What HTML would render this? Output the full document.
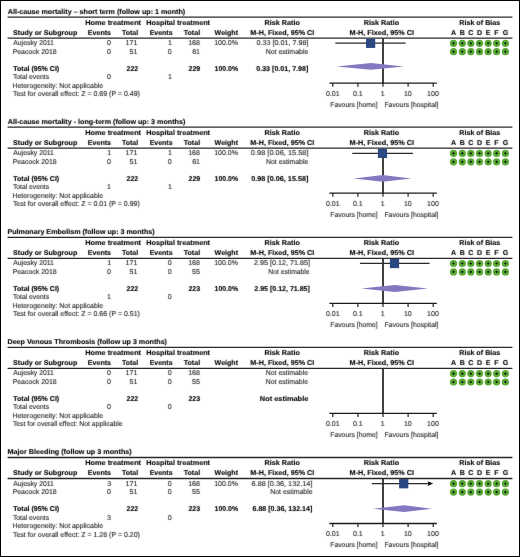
<!DOCTYPE html>
<html><head><meta charset="utf-8"><style>
html,body{margin:0;padding:0;background:#fff;}
#f{position:relative;width:520px;height:557px;overflow:hidden;background:#fff;}
svg{position:absolute;left:0;top:0;}
text{text-rendering:geometricPrecision;font-family:"Liberation Sans",sans-serif;font-size:7.05px;fill:#222;stroke:#222;stroke-width:0.1px;} text[font-weight=bold]{fill:#000;stroke:#000;stroke-width:0.12px;}

</style></head><body><div id="f">
<svg width="520" height="557" viewBox="0 0 520 557">
<defs><filter id="bl" x="0" y="0" width="520" height="557" filterUnits="userSpaceOnUse"><feConvolveMatrix order="3" kernelMatrix="0.0150 0.0500 0.0150 0.0500 0.7400 0.0500 0.0150 0.0500 0.0150" divisor="1" preserveAlpha="false"/></filter></defs>
<rect x="0.5" y="0.5" width="519" height="556" fill="#fff" stroke="#000" stroke-width="1"/>
<line x1="7.60" y1="17.10" x2="512.40" y2="17.10" stroke="#2a2a2a" stroke-width="1.3"/>
<line x1="7.60" y1="38.10" x2="512.40" y2="38.10" stroke="#2a2a2a" stroke-width="1.3"/>
<circle cx="453.50" cy="43.30" r="3.6" fill="#58a934"/>
<path d="M452.40 43.30h2.2M453.50 42.20v2.2" stroke="#111" stroke-width="1.1"/>
<circle cx="462.30" cy="43.30" r="3.6" fill="#58a934"/>
<path d="M461.20 43.30h2.2M462.30 42.20v2.2" stroke="#111" stroke-width="1.1"/>
<circle cx="470.80" cy="43.30" r="3.6" fill="#58a934"/>
<path d="M469.70 43.30h2.2M470.80 42.20v2.2" stroke="#111" stroke-width="1.1"/>
<circle cx="479.50" cy="43.30" r="3.6" fill="#58a934"/>
<path d="M478.40 43.30h2.2M479.50 42.20v2.2" stroke="#111" stroke-width="1.1"/>
<circle cx="488.20" cy="43.30" r="3.6" fill="#58a934"/>
<path d="M487.10 43.30h2.2M488.20 42.20v2.2" stroke="#111" stroke-width="1.1"/>
<circle cx="496.60" cy="43.30" r="3.6" fill="#58a934"/>
<path d="M495.50 43.30h2.2M496.60 42.20v2.2" stroke="#111" stroke-width="1.1"/>
<circle cx="505.40" cy="43.30" r="3.6" fill="#58a934"/>
<path d="M504.30 43.30h2.2M505.40 42.20v2.2" stroke="#111" stroke-width="1.1"/>
<circle cx="453.50" cy="51.70" r="3.6" fill="#58a934"/>
<path d="M452.40 51.70h2.2M453.50 50.60v2.2" stroke="#111" stroke-width="1.1"/>
<circle cx="462.30" cy="51.70" r="3.6" fill="#58a934"/>
<path d="M461.20 51.70h2.2M462.30 50.60v2.2" stroke="#111" stroke-width="1.1"/>
<circle cx="470.80" cy="51.70" r="3.6" fill="#58a934"/>
<path d="M469.70 51.70h2.2M470.80 50.60v2.2" stroke="#111" stroke-width="1.1"/>
<circle cx="479.50" cy="51.70" r="3.6" fill="#58a934"/>
<path d="M478.40 51.70h2.2M479.50 50.60v2.2" stroke="#111" stroke-width="1.1"/>
<circle cx="488.20" cy="51.70" r="3.6" fill="#58a934"/>
<path d="M487.10 51.70h2.2M488.20 50.60v2.2" stroke="#111" stroke-width="1.1"/>
<circle cx="496.60" cy="51.70" r="3.6" fill="#58a934"/>
<path d="M495.50 51.70h2.2M496.60 50.60v2.2" stroke="#111" stroke-width="1.1"/>
<circle cx="505.40" cy="51.70" r="3.6" fill="#58a934"/>
<path d="M504.30 51.70h2.2M505.40 50.60v2.2" stroke="#111" stroke-width="1.1"/>
<line x1="383.00" y1="38.50" x2="383.00" y2="83.50" stroke="#1e1e1e" stroke-width="1.7"/>
<line x1="329.40" y1="83.10" x2="436.80" y2="83.10" stroke="#1a1a1a" stroke-width="1.3"/>
<line x1="332.80" y1="83.10" x2="332.80" y2="86.70" stroke="#222" stroke-width="1.2"/>
<line x1="357.90" y1="83.10" x2="357.90" y2="86.70" stroke="#222" stroke-width="1.2"/>
<line x1="383.00" y1="83.10" x2="383.00" y2="86.70" stroke="#222" stroke-width="1.2"/>
<line x1="408.10" y1="83.10" x2="408.10" y2="86.70" stroke="#222" stroke-width="1.2"/>
<line x1="433.20" y1="83.10" x2="433.20" y2="86.70" stroke="#222" stroke-width="1.2"/>
<line x1="335.32" y1="43.20" x2="405.64" y2="43.20" stroke="#2a2a2a" stroke-width="1.2"/>
<rect x="366.01" y="38.65" width="9.2" height="9.3" fill="#2b4a82"/>
<path d="M336.62 66.40L370.91 63.00L403.94 66.40L370.91 69.80Z" fill="#8577c0"/>
<line x1="7.60" y1="127.20" x2="512.40" y2="127.20" stroke="#2a2a2a" stroke-width="1.3"/>
<line x1="7.60" y1="148.20" x2="512.40" y2="148.20" stroke="#2a2a2a" stroke-width="1.3"/>
<circle cx="453.50" cy="153.40" r="3.6" fill="#58a934"/>
<path d="M452.40 153.40h2.2M453.50 152.30v2.2" stroke="#111" stroke-width="1.1"/>
<circle cx="462.30" cy="153.40" r="3.6" fill="#58a934"/>
<path d="M461.20 153.40h2.2M462.30 152.30v2.2" stroke="#111" stroke-width="1.1"/>
<circle cx="470.80" cy="153.40" r="3.6" fill="#58a934"/>
<path d="M469.70 153.40h2.2M470.80 152.30v2.2" stroke="#111" stroke-width="1.1"/>
<circle cx="479.50" cy="153.40" r="3.6" fill="#58a934"/>
<path d="M478.40 153.40h2.2M479.50 152.30v2.2" stroke="#111" stroke-width="1.1"/>
<circle cx="488.20" cy="153.40" r="3.6" fill="#58a934"/>
<path d="M487.10 153.40h2.2M488.20 152.30v2.2" stroke="#111" stroke-width="1.1"/>
<circle cx="496.60" cy="153.40" r="3.6" fill="#58a934"/>
<path d="M495.50 153.40h2.2M496.60 152.30v2.2" stroke="#111" stroke-width="1.1"/>
<circle cx="505.40" cy="153.40" r="3.6" fill="#58a934"/>
<path d="M504.30 153.40h2.2M505.40 152.30v2.2" stroke="#111" stroke-width="1.1"/>
<circle cx="453.50" cy="161.80" r="3.6" fill="#58a934"/>
<path d="M452.40 161.80h2.2M453.50 160.70v2.2" stroke="#111" stroke-width="1.1"/>
<circle cx="462.30" cy="161.80" r="3.6" fill="#58a934"/>
<path d="M461.20 161.80h2.2M462.30 160.70v2.2" stroke="#111" stroke-width="1.1"/>
<circle cx="470.80" cy="161.80" r="3.6" fill="#58a934"/>
<path d="M469.70 161.80h2.2M470.80 160.70v2.2" stroke="#111" stroke-width="1.1"/>
<circle cx="479.50" cy="161.80" r="3.6" fill="#58a934"/>
<path d="M478.40 161.80h2.2M479.50 160.70v2.2" stroke="#111" stroke-width="1.1"/>
<circle cx="488.20" cy="161.80" r="3.6" fill="#58a934"/>
<path d="M487.10 161.80h2.2M488.20 160.70v2.2" stroke="#111" stroke-width="1.1"/>
<circle cx="496.60" cy="161.80" r="3.6" fill="#58a934"/>
<path d="M495.50 161.80h2.2M496.60 160.70v2.2" stroke="#111" stroke-width="1.1"/>
<circle cx="505.40" cy="161.80" r="3.6" fill="#58a934"/>
<path d="M504.30 161.80h2.2M505.40 160.70v2.2" stroke="#111" stroke-width="1.1"/>
<line x1="383.00" y1="148.60" x2="383.00" y2="193.60" stroke="#1e1e1e" stroke-width="1.7"/>
<line x1="329.40" y1="193.20" x2="436.80" y2="193.20" stroke="#1a1a1a" stroke-width="1.3"/>
<line x1="332.80" y1="193.20" x2="332.80" y2="196.80" stroke="#222" stroke-width="1.2"/>
<line x1="357.90" y1="193.20" x2="357.90" y2="196.80" stroke="#222" stroke-width="1.2"/>
<line x1="383.00" y1="193.20" x2="383.00" y2="196.80" stroke="#222" stroke-width="1.2"/>
<line x1="408.10" y1="193.20" x2="408.10" y2="196.80" stroke="#222" stroke-width="1.2"/>
<line x1="433.20" y1="193.20" x2="433.20" y2="196.80" stroke="#222" stroke-width="1.2"/>
<line x1="352.33" y1="153.30" x2="412.93" y2="153.30" stroke="#2a2a2a" stroke-width="1.2"/>
<rect x="377.88" y="148.75" width="9.2" height="9.3" fill="#2b4a82"/>
<path d="M353.63 178.40L382.78 175.00L411.23 178.40L382.78 181.80Z" fill="#8577c0"/>
<line x1="7.60" y1="237.30" x2="512.40" y2="237.30" stroke="#2a2a2a" stroke-width="1.3"/>
<line x1="7.60" y1="258.30" x2="512.40" y2="258.30" stroke="#2a2a2a" stroke-width="1.3"/>
<circle cx="453.50" cy="263.50" r="3.6" fill="#58a934"/>
<path d="M452.40 263.50h2.2M453.50 262.40v2.2" stroke="#111" stroke-width="1.1"/>
<circle cx="462.30" cy="263.50" r="3.6" fill="#58a934"/>
<path d="M461.20 263.50h2.2M462.30 262.40v2.2" stroke="#111" stroke-width="1.1"/>
<circle cx="470.80" cy="263.50" r="3.6" fill="#58a934"/>
<path d="M469.70 263.50h2.2M470.80 262.40v2.2" stroke="#111" stroke-width="1.1"/>
<circle cx="479.50" cy="263.50" r="3.6" fill="#58a934"/>
<path d="M478.40 263.50h2.2M479.50 262.40v2.2" stroke="#111" stroke-width="1.1"/>
<circle cx="488.20" cy="263.50" r="3.6" fill="#58a934"/>
<path d="M487.10 263.50h2.2M488.20 262.40v2.2" stroke="#111" stroke-width="1.1"/>
<circle cx="496.60" cy="263.50" r="3.6" fill="#58a934"/>
<path d="M495.50 263.50h2.2M496.60 262.40v2.2" stroke="#111" stroke-width="1.1"/>
<circle cx="505.40" cy="263.50" r="3.6" fill="#58a934"/>
<path d="M504.30 263.50h2.2M505.40 262.40v2.2" stroke="#111" stroke-width="1.1"/>
<circle cx="453.50" cy="271.90" r="3.6" fill="#58a934"/>
<path d="M452.40 271.90h2.2M453.50 270.80v2.2" stroke="#111" stroke-width="1.1"/>
<circle cx="462.30" cy="271.90" r="3.6" fill="#58a934"/>
<path d="M461.20 271.90h2.2M462.30 270.80v2.2" stroke="#111" stroke-width="1.1"/>
<circle cx="470.80" cy="271.90" r="3.6" fill="#58a934"/>
<path d="M469.70 271.90h2.2M470.80 270.80v2.2" stroke="#111" stroke-width="1.1"/>
<circle cx="479.50" cy="271.90" r="3.6" fill="#58a934"/>
<path d="M478.40 271.90h2.2M479.50 270.80v2.2" stroke="#111" stroke-width="1.1"/>
<circle cx="488.20" cy="271.90" r="3.6" fill="#58a934"/>
<path d="M487.10 271.90h2.2M488.20 270.80v2.2" stroke="#111" stroke-width="1.1"/>
<circle cx="496.60" cy="271.90" r="3.6" fill="#58a934"/>
<path d="M495.50 271.90h2.2M496.60 270.80v2.2" stroke="#111" stroke-width="1.1"/>
<circle cx="505.40" cy="271.90" r="3.6" fill="#58a934"/>
<path d="M504.30 271.90h2.2M505.40 270.80v2.2" stroke="#111" stroke-width="1.1"/>
<line x1="383.00" y1="258.70" x2="383.00" y2="303.70" stroke="#1e1e1e" stroke-width="1.7"/>
<line x1="329.40" y1="303.30" x2="436.80" y2="303.30" stroke="#1a1a1a" stroke-width="1.3"/>
<line x1="332.80" y1="303.30" x2="332.80" y2="306.90" stroke="#222" stroke-width="1.2"/>
<line x1="357.90" y1="303.30" x2="357.90" y2="306.90" stroke="#222" stroke-width="1.2"/>
<line x1="383.00" y1="303.30" x2="383.00" y2="306.90" stroke="#222" stroke-width="1.2"/>
<line x1="408.10" y1="303.30" x2="408.10" y2="306.90" stroke="#222" stroke-width="1.2"/>
<line x1="433.20" y1="303.30" x2="433.20" y2="306.90" stroke="#222" stroke-width="1.2"/>
<line x1="359.89" y1="263.40" x2="429.60" y2="263.40" stroke="#2a2a2a" stroke-width="1.2"/>
<rect x="389.89" y="258.85" width="9.2" height="9.3" fill="#2b4a82"/>
<path d="M361.19 288.50L394.79 285.10L427.90 288.50L394.79 291.90Z" fill="#8577c0"/>
<line x1="7.60" y1="347.40" x2="512.40" y2="347.40" stroke="#2a2a2a" stroke-width="1.3"/>
<line x1="7.60" y1="368.40" x2="512.40" y2="368.40" stroke="#2a2a2a" stroke-width="1.3"/>
<circle cx="453.50" cy="373.60" r="3.6" fill="#58a934"/>
<path d="M452.40 373.60h2.2M453.50 372.50v2.2" stroke="#111" stroke-width="1.1"/>
<circle cx="462.30" cy="373.60" r="3.6" fill="#58a934"/>
<path d="M461.20 373.60h2.2M462.30 372.50v2.2" stroke="#111" stroke-width="1.1"/>
<circle cx="470.80" cy="373.60" r="3.6" fill="#58a934"/>
<path d="M469.70 373.60h2.2M470.80 372.50v2.2" stroke="#111" stroke-width="1.1"/>
<circle cx="479.50" cy="373.60" r="3.6" fill="#58a934"/>
<path d="M478.40 373.60h2.2M479.50 372.50v2.2" stroke="#111" stroke-width="1.1"/>
<circle cx="488.20" cy="373.60" r="3.6" fill="#58a934"/>
<path d="M487.10 373.60h2.2M488.20 372.50v2.2" stroke="#111" stroke-width="1.1"/>
<circle cx="496.60" cy="373.60" r="3.6" fill="#58a934"/>
<path d="M495.50 373.60h2.2M496.60 372.50v2.2" stroke="#111" stroke-width="1.1"/>
<circle cx="505.40" cy="373.60" r="3.6" fill="#58a934"/>
<path d="M504.30 373.60h2.2M505.40 372.50v2.2" stroke="#111" stroke-width="1.1"/>
<circle cx="453.50" cy="382.00" r="3.6" fill="#58a934"/>
<path d="M452.40 382.00h2.2M453.50 380.90v2.2" stroke="#111" stroke-width="1.1"/>
<circle cx="462.30" cy="382.00" r="3.6" fill="#58a934"/>
<path d="M461.20 382.00h2.2M462.30 380.90v2.2" stroke="#111" stroke-width="1.1"/>
<circle cx="470.80" cy="382.00" r="3.6" fill="#58a934"/>
<path d="M469.70 382.00h2.2M470.80 380.90v2.2" stroke="#111" stroke-width="1.1"/>
<circle cx="479.50" cy="382.00" r="3.6" fill="#58a934"/>
<path d="M478.40 382.00h2.2M479.50 380.90v2.2" stroke="#111" stroke-width="1.1"/>
<circle cx="488.20" cy="382.00" r="3.6" fill="#58a934"/>
<path d="M487.10 382.00h2.2M488.20 380.90v2.2" stroke="#111" stroke-width="1.1"/>
<circle cx="496.60" cy="382.00" r="3.6" fill="#58a934"/>
<path d="M495.50 382.00h2.2M496.60 380.90v2.2" stroke="#111" stroke-width="1.1"/>
<circle cx="505.40" cy="382.00" r="3.6" fill="#58a934"/>
<path d="M504.30 382.00h2.2M505.40 380.90v2.2" stroke="#111" stroke-width="1.1"/>
<line x1="383.00" y1="368.80" x2="383.00" y2="413.80" stroke="#1e1e1e" stroke-width="1.7"/>
<line x1="329.40" y1="413.40" x2="436.80" y2="413.40" stroke="#1a1a1a" stroke-width="1.3"/>
<line x1="332.80" y1="413.40" x2="332.80" y2="417.00" stroke="#222" stroke-width="1.2"/>
<line x1="357.90" y1="413.40" x2="357.90" y2="417.00" stroke="#222" stroke-width="1.2"/>
<line x1="383.00" y1="413.40" x2="383.00" y2="417.00" stroke="#222" stroke-width="1.2"/>
<line x1="408.10" y1="413.40" x2="408.10" y2="417.00" stroke="#222" stroke-width="1.2"/>
<line x1="433.20" y1="413.40" x2="433.20" y2="417.00" stroke="#222" stroke-width="1.2"/>
<line x1="7.60" y1="457.50" x2="512.40" y2="457.50" stroke="#2a2a2a" stroke-width="1.3"/>
<line x1="7.60" y1="478.50" x2="512.40" y2="478.50" stroke="#2a2a2a" stroke-width="1.3"/>
<circle cx="453.50" cy="483.70" r="3.6" fill="#58a934"/>
<path d="M452.40 483.70h2.2M453.50 482.60v2.2" stroke="#111" stroke-width="1.1"/>
<circle cx="462.30" cy="483.70" r="3.6" fill="#58a934"/>
<path d="M461.20 483.70h2.2M462.30 482.60v2.2" stroke="#111" stroke-width="1.1"/>
<circle cx="470.80" cy="483.70" r="3.6" fill="#58a934"/>
<path d="M469.70 483.70h2.2M470.80 482.60v2.2" stroke="#111" stroke-width="1.1"/>
<circle cx="479.50" cy="483.70" r="3.6" fill="#58a934"/>
<path d="M478.40 483.70h2.2M479.50 482.60v2.2" stroke="#111" stroke-width="1.1"/>
<circle cx="488.20" cy="483.70" r="3.6" fill="#58a934"/>
<path d="M487.10 483.70h2.2M488.20 482.60v2.2" stroke="#111" stroke-width="1.1"/>
<circle cx="496.60" cy="483.70" r="3.6" fill="#58a934"/>
<path d="M495.50 483.70h2.2M496.60 482.60v2.2" stroke="#111" stroke-width="1.1"/>
<circle cx="505.40" cy="483.70" r="3.6" fill="#58a934"/>
<path d="M504.30 483.70h2.2M505.40 482.60v2.2" stroke="#111" stroke-width="1.1"/>
<circle cx="453.50" cy="492.10" r="3.6" fill="#58a934"/>
<path d="M452.40 492.10h2.2M453.50 491.00v2.2" stroke="#111" stroke-width="1.1"/>
<circle cx="462.30" cy="492.10" r="3.6" fill="#58a934"/>
<path d="M461.20 492.10h2.2M462.30 491.00v2.2" stroke="#111" stroke-width="1.1"/>
<circle cx="470.80" cy="492.10" r="3.6" fill="#58a934"/>
<path d="M469.70 492.10h2.2M470.80 491.00v2.2" stroke="#111" stroke-width="1.1"/>
<circle cx="479.50" cy="492.10" r="3.6" fill="#58a934"/>
<path d="M478.40 492.10h2.2M479.50 491.00v2.2" stroke="#111" stroke-width="1.1"/>
<circle cx="488.20" cy="492.10" r="3.6" fill="#58a934"/>
<path d="M487.10 492.10h2.2M488.20 491.00v2.2" stroke="#111" stroke-width="1.1"/>
<circle cx="496.60" cy="492.10" r="3.6" fill="#58a934"/>
<path d="M495.50 492.10h2.2M496.60 491.00v2.2" stroke="#111" stroke-width="1.1"/>
<circle cx="505.40" cy="492.10" r="3.6" fill="#58a934"/>
<path d="M504.30 492.10h2.2M505.40 491.00v2.2" stroke="#111" stroke-width="1.1"/>
<line x1="383.00" y1="478.90" x2="383.00" y2="523.90" stroke="#1e1e1e" stroke-width="1.7"/>
<line x1="329.40" y1="523.50" x2="436.80" y2="523.50" stroke="#1a1a1a" stroke-width="1.3"/>
<line x1="332.80" y1="523.50" x2="332.80" y2="527.10" stroke="#222" stroke-width="1.2"/>
<line x1="357.90" y1="523.50" x2="357.90" y2="527.10" stroke="#222" stroke-width="1.2"/>
<line x1="383.00" y1="523.50" x2="383.00" y2="527.10" stroke="#222" stroke-width="1.2"/>
<line x1="408.10" y1="523.50" x2="408.10" y2="527.10" stroke="#222" stroke-width="1.2"/>
<line x1="433.20" y1="523.50" x2="433.20" y2="527.10" stroke="#222" stroke-width="1.2"/>
<line x1="371.86" y1="483.60" x2="430.00" y2="483.60" stroke="#2a2a2a" stroke-width="1.2"/>
<path d="M427.6 481.30L433.2 483.60L427.6 485.90L428.4 483.60Z" fill="#111"/>
<rect x="399.12" y="479.05" width="9.2" height="9.3" fill="#2b4a82"/>
<path d="M373.16 508.70L404.02 505.30L432.00 508.70L404.02 512.10Z" fill="#8577c0"/>
<g filter="url(#bl)">
<text x="7.75" y="13.60" font-weight="bold" textLength="177.40" lengthAdjust="spacingAndGlyphs">All-cause mortality – short term (follow up: 1 month)</text>
<text x="85.24" y="25.00" font-weight="bold" textLength="55.84" lengthAdjust="spacingAndGlyphs">Home treatment</text>
<text x="146.24" y="25.00" font-weight="bold" textLength="63.80" lengthAdjust="spacingAndGlyphs">Hospital treatment</text>
<text x="264.50" y="25.00" font-weight="bold" textLength="35.30" lengthAdjust="spacingAndGlyphs">Risk Ratio</text>
<text x="363.75" y="25.00" font-weight="bold" textLength="35.30" lengthAdjust="spacingAndGlyphs">Risk Ratio</text>
<text x="459.24" y="25.00" font-weight="bold" textLength="41.05" lengthAdjust="spacingAndGlyphs">Risk of Bias</text>
<text x="13.13" y="34.50" font-weight="bold" textLength="64.13" lengthAdjust="spacingAndGlyphs">Study or Subgroup</text>
<text x="87.75" y="34.50" font-weight="bold" textLength="23.32" lengthAdjust="spacingAndGlyphs">Events</text>
<text x="122.00" y="34.50" font-weight="bold" textLength="16.09" lengthAdjust="spacingAndGlyphs">Total</text>
<text x="149.63" y="34.50" font-weight="bold" textLength="22.93" lengthAdjust="spacingAndGlyphs">Events</text>
<text x="183.75" y="34.50" font-weight="bold" textLength="16.35" lengthAdjust="spacingAndGlyphs">Total</text>
<text x="214.62" y="34.50" font-weight="bold" textLength="23.39" lengthAdjust="spacingAndGlyphs">Weight</text>
<text x="250.37" y="34.50" font-weight="bold" textLength="63.83" lengthAdjust="spacingAndGlyphs">M-H, Fixed, 95% CI</text>
<text x="349.61" y="34.50" font-weight="bold" textLength="64.47" lengthAdjust="spacingAndGlyphs">M-H, Fixed, 95% CI</text>
<text x="450.94" y="34.50" font-weight="bold">A</text>
<text x="459.68" y="34.50" font-weight="bold">B</text>
<text x="468.18" y="34.50" font-weight="bold">C</text>
<text x="476.88" y="34.50" font-weight="bold">D</text>
<text x="485.76" y="34.50" font-weight="bold">E</text>
<text x="494.35" y="34.50" font-weight="bold">F</text>
<text x="502.71" y="34.50" font-weight="bold">G</text>
<text x="13.25" y="45.10" textLength="40.61" lengthAdjust="spacingAndGlyphs">Aujesky 2011</text>
<text x="107.05" y="45.10">0</text>
<text x="125.60" y="45.10">171</text>
<text x="167.97" y="45.10">1</text>
<text x="188.20" y="45.10">168</text>
<text x="214.14" y="45.10" textLength="23.73" lengthAdjust="spacingAndGlyphs">100.0%</text>
<text x="256.62" y="45.10" textLength="51.99" lengthAdjust="spacingAndGlyphs">0.33 [0.01, 7.98]</text>
<text x="12.63" y="53.60" textLength="43.98" lengthAdjust="spacingAndGlyphs">Peacock 2018</text>
<text x="107.05" y="53.60">0</text>
<text x="129.60" y="53.60">51</text>
<text x="167.85" y="53.60">0</text>
<text x="192.20" y="53.60">61</text>
<text x="265.63" y="53.60" textLength="42.78" lengthAdjust="spacingAndGlyphs">Not estimable</text>
<text x="13.25" y="70.60" font-weight="bold" textLength="45.95" lengthAdjust="spacingAndGlyphs">Total (95% CI)</text>
<text x="126.50" y="70.60" font-weight="bold">222</text>
<text x="188.50" y="70.60" font-weight="bold">229</text>
<text x="214.52" y="70.60" font-weight="bold" textLength="23.61" lengthAdjust="spacingAndGlyphs">100.0%</text>
<text x="256.25" y="70.60" font-weight="bold" textLength="52.10" lengthAdjust="spacingAndGlyphs">0.33 [0.01, 7.98]</text>
<text x="12.88" y="79.10" textLength="36.17" lengthAdjust="spacingAndGlyphs">Total events</text>
<text x="106.95" y="79.10">0</text>
<text x="167.88" y="79.10">1</text>
<text x="12.51" y="87.60" textLength="90.64" lengthAdjust="spacingAndGlyphs">Heterogeneity: Not applicable</text>
<text x="12.88" y="96.10" textLength="127.07" lengthAdjust="spacingAndGlyphs">Test for overall effect: Z = 0.69 (P = 0.49)</text>
<text x="325.89" y="95.90" font-size="6.6">0.01</text>
<text x="352.92" y="95.90" font-size="6.6">0.1</text>
<text x="380.84" y="95.90" font-size="6.6">1</text>
<text x="403.94" y="95.90" font-size="6.6">10</text>
<text x="427.10" y="95.90" font-size="6.6">100</text>
<text x="330.27" y="107.00" font-size="6.6" textLength="47.34" lengthAdjust="spacingAndGlyphs">Favours [home]</text>
<text x="384.39" y="107.00" font-size="6.6" textLength="54.13" lengthAdjust="spacingAndGlyphs">Favours [hospital]</text>
<text x="7.75" y="123.70" font-weight="bold" textLength="177.52" lengthAdjust="spacingAndGlyphs">All-cause mortality - long-term (follow up: 3 months)</text>
<text x="85.24" y="135.10" font-weight="bold" textLength="55.84" lengthAdjust="spacingAndGlyphs">Home treatment</text>
<text x="146.24" y="135.10" font-weight="bold" textLength="63.80" lengthAdjust="spacingAndGlyphs">Hospital treatment</text>
<text x="264.50" y="135.10" font-weight="bold" textLength="35.30" lengthAdjust="spacingAndGlyphs">Risk Ratio</text>
<text x="363.75" y="135.10" font-weight="bold" textLength="35.30" lengthAdjust="spacingAndGlyphs">Risk Ratio</text>
<text x="459.24" y="135.10" font-weight="bold" textLength="41.05" lengthAdjust="spacingAndGlyphs">Risk of Bias</text>
<text x="13.13" y="144.60" font-weight="bold" textLength="64.13" lengthAdjust="spacingAndGlyphs">Study or Subgroup</text>
<text x="87.75" y="144.60" font-weight="bold" textLength="23.32" lengthAdjust="spacingAndGlyphs">Events</text>
<text x="122.00" y="144.60" font-weight="bold" textLength="16.09" lengthAdjust="spacingAndGlyphs">Total</text>
<text x="149.63" y="144.60" font-weight="bold" textLength="22.93" lengthAdjust="spacingAndGlyphs">Events</text>
<text x="183.75" y="144.60" font-weight="bold" textLength="16.35" lengthAdjust="spacingAndGlyphs">Total</text>
<text x="214.62" y="144.60" font-weight="bold" textLength="23.39" lengthAdjust="spacingAndGlyphs">Weight</text>
<text x="250.37" y="144.60" font-weight="bold" textLength="63.83" lengthAdjust="spacingAndGlyphs">M-H, Fixed, 95% CI</text>
<text x="349.61" y="144.60" font-weight="bold" textLength="64.47" lengthAdjust="spacingAndGlyphs">M-H, Fixed, 95% CI</text>
<text x="450.94" y="144.60" font-weight="bold">A</text>
<text x="459.68" y="144.60" font-weight="bold">B</text>
<text x="468.18" y="144.60" font-weight="bold">C</text>
<text x="476.88" y="144.60" font-weight="bold">D</text>
<text x="485.76" y="144.60" font-weight="bold">E</text>
<text x="494.35" y="144.60" font-weight="bold">F</text>
<text x="502.71" y="144.60" font-weight="bold">G</text>
<text x="13.25" y="155.20" textLength="40.61" lengthAdjust="spacingAndGlyphs">Aujesky 2011</text>
<text x="107.17" y="155.20">1</text>
<text x="125.60" y="155.20">171</text>
<text x="167.97" y="155.20">1</text>
<text x="188.20" y="155.20">168</text>
<text x="214.14" y="155.20" textLength="23.73" lengthAdjust="spacingAndGlyphs">100.0%</text>
<text x="250.86" y="155.20" textLength="57.69" lengthAdjust="spacingAndGlyphs">0.98 [0.06, 15.58]</text>
<text x="12.63" y="163.70" textLength="43.98" lengthAdjust="spacingAndGlyphs">Peacock 2018</text>
<text x="107.05" y="163.70">0</text>
<text x="129.60" y="163.70">51</text>
<text x="167.85" y="163.70">0</text>
<text x="192.20" y="163.70">61</text>
<text x="265.88" y="163.70" textLength="42.53" lengthAdjust="spacingAndGlyphs">Not estimable</text>
<text x="13.25" y="180.70" font-weight="bold" textLength="45.95" lengthAdjust="spacingAndGlyphs">Total (95% CI)</text>
<text x="126.50" y="180.70" font-weight="bold">222</text>
<text x="188.50" y="180.70" font-weight="bold">229</text>
<text x="214.52" y="180.70" font-weight="bold" textLength="23.61" lengthAdjust="spacingAndGlyphs">100.0%</text>
<text x="251.24" y="180.70" font-weight="bold" textLength="57.16" lengthAdjust="spacingAndGlyphs">0.98 [0.06, 15.58]</text>
<text x="12.88" y="189.20" textLength="36.17" lengthAdjust="spacingAndGlyphs">Total events</text>
<text x="107.08" y="189.20">1</text>
<text x="167.88" y="189.20">1</text>
<text x="12.51" y="197.70" textLength="90.64" lengthAdjust="spacingAndGlyphs">Heterogeneity: Not applicable</text>
<text x="12.88" y="206.20" textLength="126.95" lengthAdjust="spacingAndGlyphs">Test for overall effect: Z = 0.01 (P = 0.99)</text>
<text x="325.89" y="206.00" font-size="6.6">0.01</text>
<text x="352.92" y="206.00" font-size="6.6">0.1</text>
<text x="380.84" y="206.00" font-size="6.6">1</text>
<text x="403.94" y="206.00" font-size="6.6">10</text>
<text x="427.10" y="206.00" font-size="6.6">100</text>
<text x="330.27" y="217.10" font-size="6.6" textLength="47.34" lengthAdjust="spacingAndGlyphs">Favours [home]</text>
<text x="384.39" y="217.10" font-size="6.6" textLength="54.13" lengthAdjust="spacingAndGlyphs">Favours [hospital]</text>
<text x="7.50" y="233.80" font-weight="bold" textLength="147.13" lengthAdjust="spacingAndGlyphs">Pulmonary Embolism (follow up: 3 months)</text>
<text x="85.24" y="245.20" font-weight="bold" textLength="55.84" lengthAdjust="spacingAndGlyphs">Home treatment</text>
<text x="146.24" y="245.20" font-weight="bold" textLength="63.80" lengthAdjust="spacingAndGlyphs">Hospital treatment</text>
<text x="264.50" y="245.20" font-weight="bold" textLength="35.30" lengthAdjust="spacingAndGlyphs">Risk Ratio</text>
<text x="363.75" y="245.20" font-weight="bold" textLength="35.30" lengthAdjust="spacingAndGlyphs">Risk Ratio</text>
<text x="459.24" y="245.20" font-weight="bold" textLength="41.05" lengthAdjust="spacingAndGlyphs">Risk of Bias</text>
<text x="13.13" y="254.70" font-weight="bold" textLength="64.13" lengthAdjust="spacingAndGlyphs">Study or Subgroup</text>
<text x="87.75" y="254.70" font-weight="bold" textLength="23.32" lengthAdjust="spacingAndGlyphs">Events</text>
<text x="122.00" y="254.70" font-weight="bold" textLength="16.09" lengthAdjust="spacingAndGlyphs">Total</text>
<text x="149.63" y="254.70" font-weight="bold" textLength="22.93" lengthAdjust="spacingAndGlyphs">Events</text>
<text x="183.75" y="254.70" font-weight="bold" textLength="16.35" lengthAdjust="spacingAndGlyphs">Total</text>
<text x="214.62" y="254.70" font-weight="bold" textLength="23.39" lengthAdjust="spacingAndGlyphs">Weight</text>
<text x="250.37" y="254.70" font-weight="bold" textLength="63.83" lengthAdjust="spacingAndGlyphs">M-H, Fixed, 95% CI</text>
<text x="349.61" y="254.70" font-weight="bold" textLength="64.47" lengthAdjust="spacingAndGlyphs">M-H, Fixed, 95% CI</text>
<text x="450.94" y="254.70" font-weight="bold">A</text>
<text x="459.68" y="254.70" font-weight="bold">B</text>
<text x="468.18" y="254.70" font-weight="bold">C</text>
<text x="476.88" y="254.70" font-weight="bold">D</text>
<text x="485.76" y="254.70" font-weight="bold">E</text>
<text x="494.35" y="254.70" font-weight="bold">F</text>
<text x="502.71" y="254.70" font-weight="bold">G</text>
<text x="13.25" y="265.30" textLength="40.61" lengthAdjust="spacingAndGlyphs">Aujesky 2011</text>
<text x="107.17" y="265.30">1</text>
<text x="125.60" y="265.30">171</text>
<text x="167.85" y="265.30">0</text>
<text x="188.20" y="265.30">168</text>
<text x="214.14" y="265.30" textLength="23.73" lengthAdjust="spacingAndGlyphs">100.0%</text>
<text x="254.12" y="265.30" textLength="55.91" lengthAdjust="spacingAndGlyphs">2.95 [0.12, 71.85]</text>
<text x="12.63" y="273.80" textLength="43.98" lengthAdjust="spacingAndGlyphs">Peacock 2018</text>
<text x="107.05" y="273.80">0</text>
<text x="129.60" y="273.80">51</text>
<text x="167.85" y="273.80">0</text>
<text x="192.07" y="273.80">55</text>
<text x="268.27" y="273.80" textLength="41.25" lengthAdjust="spacingAndGlyphs">Not estimable</text>
<text x="13.25" y="290.80" font-weight="bold" textLength="45.95" lengthAdjust="spacingAndGlyphs">Total (95% CI)</text>
<text x="126.50" y="290.80" font-weight="bold">222</text>
<text x="188.38" y="290.80" font-weight="bold">223</text>
<text x="214.52" y="290.80" font-weight="bold" textLength="23.61" lengthAdjust="spacingAndGlyphs">100.0%</text>
<text x="254.25" y="290.80" font-weight="bold" textLength="55.64" lengthAdjust="spacingAndGlyphs">2.95 [0.12, 71.85]</text>
<text x="12.88" y="299.30" textLength="36.17" lengthAdjust="spacingAndGlyphs">Total events</text>
<text x="107.08" y="299.30">1</text>
<text x="167.75" y="299.30">0</text>
<text x="12.51" y="307.80" textLength="90.64" lengthAdjust="spacingAndGlyphs">Heterogeneity: Not applicable</text>
<text x="12.88" y="316.30" textLength="127.07" lengthAdjust="spacingAndGlyphs">Test for overall effect: Z = 0.66 (P = 0.51)</text>
<text x="325.89" y="316.10" font-size="6.6">0.01</text>
<text x="352.92" y="316.10" font-size="6.6">0.1</text>
<text x="380.84" y="316.10" font-size="6.6">1</text>
<text x="403.94" y="316.10" font-size="6.6">10</text>
<text x="427.10" y="316.10" font-size="6.6">100</text>
<text x="330.27" y="327.20" font-size="6.6" textLength="47.34" lengthAdjust="spacingAndGlyphs">Favours [home]</text>
<text x="384.39" y="327.20" font-size="6.6" textLength="54.13" lengthAdjust="spacingAndGlyphs">Favours [hospital]</text>
<text x="7.49" y="343.90" font-weight="bold" textLength="159.52" lengthAdjust="spacingAndGlyphs">Deep Venous Thrombosis (follow up 3 months)</text>
<text x="85.24" y="355.30" font-weight="bold" textLength="55.84" lengthAdjust="spacingAndGlyphs">Home treatment</text>
<text x="146.24" y="355.30" font-weight="bold" textLength="63.80" lengthAdjust="spacingAndGlyphs">Hospital treatment</text>
<text x="264.50" y="355.30" font-weight="bold" textLength="35.30" lengthAdjust="spacingAndGlyphs">Risk Ratio</text>
<text x="363.75" y="355.30" font-weight="bold" textLength="35.30" lengthAdjust="spacingAndGlyphs">Risk Ratio</text>
<text x="459.24" y="355.30" font-weight="bold" textLength="41.05" lengthAdjust="spacingAndGlyphs">Risk of Bias</text>
<text x="13.13" y="364.80" font-weight="bold" textLength="64.13" lengthAdjust="spacingAndGlyphs">Study or Subgroup</text>
<text x="87.75" y="364.80" font-weight="bold" textLength="23.32" lengthAdjust="spacingAndGlyphs">Events</text>
<text x="122.00" y="364.80" font-weight="bold" textLength="16.09" lengthAdjust="spacingAndGlyphs">Total</text>
<text x="149.63" y="364.80" font-weight="bold" textLength="22.93" lengthAdjust="spacingAndGlyphs">Events</text>
<text x="183.75" y="364.80" font-weight="bold" textLength="16.35" lengthAdjust="spacingAndGlyphs">Total</text>
<text x="214.62" y="364.80" font-weight="bold" textLength="23.39" lengthAdjust="spacingAndGlyphs">Weight</text>
<text x="250.37" y="364.80" font-weight="bold" textLength="63.83" lengthAdjust="spacingAndGlyphs">M-H, Fixed, 95% CI</text>
<text x="349.61" y="364.80" font-weight="bold" textLength="64.47" lengthAdjust="spacingAndGlyphs">M-H, Fixed, 95% CI</text>
<text x="450.94" y="364.80" font-weight="bold">A</text>
<text x="459.68" y="364.80" font-weight="bold">B</text>
<text x="468.18" y="364.80" font-weight="bold">C</text>
<text x="476.88" y="364.80" font-weight="bold">D</text>
<text x="485.76" y="364.80" font-weight="bold">E</text>
<text x="494.35" y="364.80" font-weight="bold">F</text>
<text x="502.71" y="364.80" font-weight="bold">G</text>
<text x="13.25" y="375.40" textLength="40.61" lengthAdjust="spacingAndGlyphs">Aujesky 2011</text>
<text x="107.05" y="375.40">0</text>
<text x="125.60" y="375.40">171</text>
<text x="167.85" y="375.40">0</text>
<text x="188.20" y="375.40">168</text>
<text x="265.76" y="375.40" textLength="42.27" lengthAdjust="spacingAndGlyphs">Not estimable</text>
<text x="12.63" y="383.90" textLength="43.98" lengthAdjust="spacingAndGlyphs">Peacock 2018</text>
<text x="107.05" y="383.90">0</text>
<text x="129.60" y="383.90">51</text>
<text x="167.85" y="383.90">0</text>
<text x="192.07" y="383.90">55</text>
<text x="265.76" y="383.90" textLength="42.27" lengthAdjust="spacingAndGlyphs">Not estimable</text>
<text x="13.25" y="400.90" font-weight="bold" textLength="45.95" lengthAdjust="spacingAndGlyphs">Total (95% CI)</text>
<text x="126.50" y="400.90" font-weight="bold">222</text>
<text x="188.38" y="400.90" font-weight="bold">223</text>
<text x="259.86" y="400.90" font-weight="bold" textLength="48.44" lengthAdjust="spacingAndGlyphs">Not estimable</text>
<text x="12.88" y="409.40" textLength="36.17" lengthAdjust="spacingAndGlyphs">Total events</text>
<text x="106.95" y="409.40">0</text>
<text x="167.75" y="409.40">0</text>
<text x="12.51" y="417.90" textLength="90.64" lengthAdjust="spacingAndGlyphs">Heterogeneity: Not applicable</text>
<text x="12.88" y="426.40" textLength="109.65" lengthAdjust="spacingAndGlyphs">Test for overall effect: Not applicable</text>
<text x="325.89" y="426.20" font-size="6.6">0.01</text>
<text x="352.92" y="426.20" font-size="6.6">0.1</text>
<text x="380.84" y="426.20" font-size="6.6">1</text>
<text x="403.94" y="426.20" font-size="6.6">10</text>
<text x="427.10" y="426.20" font-size="6.6">100</text>
<text x="330.27" y="437.30" font-size="6.6" textLength="47.34" lengthAdjust="spacingAndGlyphs">Favours [home]</text>
<text x="384.39" y="437.30" font-size="6.6" textLength="54.13" lengthAdjust="spacingAndGlyphs">Favours [hospital]</text>
<text x="7.49" y="454.00" font-weight="bold" textLength="124.25" lengthAdjust="spacingAndGlyphs">Major Bleeding (follow up 3 months)</text>
<text x="85.24" y="465.40" font-weight="bold" textLength="55.84" lengthAdjust="spacingAndGlyphs">Home treatment</text>
<text x="146.24" y="465.40" font-weight="bold" textLength="63.80" lengthAdjust="spacingAndGlyphs">Hospital treatment</text>
<text x="264.50" y="465.40" font-weight="bold" textLength="35.30" lengthAdjust="spacingAndGlyphs">Risk Ratio</text>
<text x="363.75" y="465.40" font-weight="bold" textLength="35.30" lengthAdjust="spacingAndGlyphs">Risk Ratio</text>
<text x="459.24" y="465.40" font-weight="bold" textLength="41.05" lengthAdjust="spacingAndGlyphs">Risk of Bias</text>
<text x="13.13" y="474.90" font-weight="bold" textLength="64.13" lengthAdjust="spacingAndGlyphs">Study or Subgroup</text>
<text x="87.75" y="474.90" font-weight="bold" textLength="23.32" lengthAdjust="spacingAndGlyphs">Events</text>
<text x="122.00" y="474.90" font-weight="bold" textLength="16.09" lengthAdjust="spacingAndGlyphs">Total</text>
<text x="149.63" y="474.90" font-weight="bold" textLength="22.93" lengthAdjust="spacingAndGlyphs">Events</text>
<text x="183.75" y="474.90" font-weight="bold" textLength="16.35" lengthAdjust="spacingAndGlyphs">Total</text>
<text x="214.62" y="474.90" font-weight="bold" textLength="23.39" lengthAdjust="spacingAndGlyphs">Weight</text>
<text x="250.37" y="474.90" font-weight="bold" textLength="63.83" lengthAdjust="spacingAndGlyphs">M-H, Fixed, 95% CI</text>
<text x="349.61" y="474.90" font-weight="bold" textLength="64.47" lengthAdjust="spacingAndGlyphs">M-H, Fixed, 95% CI</text>
<text x="450.94" y="474.90" font-weight="bold">A</text>
<text x="459.68" y="474.90" font-weight="bold">B</text>
<text x="468.18" y="474.90" font-weight="bold">C</text>
<text x="476.88" y="474.90" font-weight="bold">D</text>
<text x="485.76" y="474.90" font-weight="bold">E</text>
<text x="494.35" y="474.90" font-weight="bold">F</text>
<text x="502.71" y="474.90" font-weight="bold">G</text>
<text x="13.25" y="485.50" textLength="40.61" lengthAdjust="spacingAndGlyphs">Aujesky 2011</text>
<text x="107.17" y="485.50">3</text>
<text x="125.60" y="485.50">171</text>
<text x="167.85" y="485.50">0</text>
<text x="188.20" y="485.50">168</text>
<text x="214.14" y="485.50" textLength="23.73" lengthAdjust="spacingAndGlyphs">100.0%</text>
<text x="251.62" y="485.50" textLength="60.84" lengthAdjust="spacingAndGlyphs">6.88 [0.36, 132.14]</text>
<text x="12.63" y="494.00" textLength="43.98" lengthAdjust="spacingAndGlyphs">Peacock 2018</text>
<text x="107.05" y="494.00">0</text>
<text x="129.60" y="494.00">51</text>
<text x="167.85" y="494.00">0</text>
<text x="192.07" y="494.00">55</text>
<text x="270.26" y="494.00" textLength="42.27" lengthAdjust="spacingAndGlyphs">Not estimable</text>
<text x="13.25" y="511.00" font-weight="bold" textLength="45.95" lengthAdjust="spacingAndGlyphs">Total (95% CI)</text>
<text x="126.50" y="511.00" font-weight="bold">222</text>
<text x="188.38" y="511.00" font-weight="bold">223</text>
<text x="214.52" y="511.00" font-weight="bold" textLength="23.61" lengthAdjust="spacingAndGlyphs">100.0%</text>
<text x="252.50" y="511.00" font-weight="bold" textLength="59.81" lengthAdjust="spacingAndGlyphs">6.88 [0.36, 132.14]</text>
<text x="12.88" y="519.50" textLength="36.17" lengthAdjust="spacingAndGlyphs">Total events</text>
<text x="107.08" y="519.50">3</text>
<text x="167.75" y="519.50">0</text>
<text x="12.51" y="528.00" textLength="90.64" lengthAdjust="spacingAndGlyphs">Heterogeneity: Not applicable</text>
<text x="12.88" y="536.50" textLength="127.07" lengthAdjust="spacingAndGlyphs">Test for overall effect: Z = 1.28 (P = 0.20)</text>
<text x="325.89" y="536.30" font-size="6.6">0.01</text>
<text x="352.92" y="536.30" font-size="6.6">0.1</text>
<text x="380.84" y="536.30" font-size="6.6">1</text>
<text x="403.94" y="536.30" font-size="6.6">10</text>
<text x="427.10" y="536.30" font-size="6.6">100</text>
<text x="330.27" y="547.40" font-size="6.6" textLength="47.34" lengthAdjust="spacingAndGlyphs">Favours [home]</text>
<text x="384.39" y="547.40" font-size="6.6" textLength="54.13" lengthAdjust="spacingAndGlyphs">Favours [hospital]</text>
</g>
</svg></div></body></html>
